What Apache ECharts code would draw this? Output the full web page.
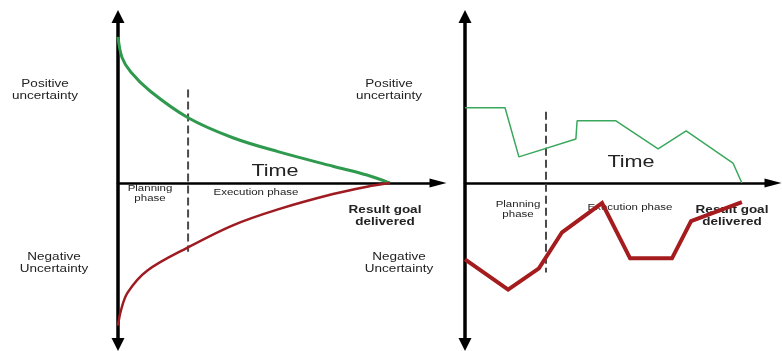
<!DOCTYPE html>
<html>
<head>
<meta charset="utf-8">
<script src="https://cdn.jsdelivr.net/npm/echarts@6/dist/echarts.min.js"></script>
<style>
  html, body { margin: 0; padding: 0; background: #fff; }
  #chart { width: 782px; height: 351px; }
</style>
</head>
<body>
<div id="chart"></div>
<script>
// Uncertainty over time: smooth convergence (left) vs. erratic path (right)
// Points are [time, uncertainty]; positive above the time axis, negative below.
const smoothPositive = [[0, 1.0], [0.125, 0.86], [0.4, 0.76], [1.0, 0.63], [2.19, 0.447], [3.59, 0.31],
  [5.0, 0.215], [6.72, 0.115], [7.78, 0.055], [8.5, 0]];
const smoothNegative = [[0, -0.976], [0.09, -0.873], [0.3, -0.75], [0.91, -0.6], [2.19, -0.44], [3.59, -0.289],
  [5.0, -0.18], [6.72, -0.075], [7.78, -0.025], [8.5, 0]];
const roughPositive = [[0, 0.515], [1.3, 0.515], [1.75, 0.179], [3.6, 0.302], [3.64, 0.426], [4.9, 0.426],
  [6.27, 0.234], [7.18, 0.357], [8.7, 0.137], [8.99, 0]];
const roughNegative = [[0, -0.522], [1.4, -0.729], [2.4, -0.584], [3.15, -0.337], [4.45, -0.137], [5.36, -0.515],
  [6.72, -0.515], [7.34, -0.261], [8.99, -0.131]];
// End of the planning phase (time) and the extent of its marker line
const planEndLeft = 2.19, planSpanLeft = [0.64, -0.47];
const planEndRight = 2.63, planSpanRight = [0.488, -0.612];

const FONT = 'Liberation Sans, Arial, Helvetica, sans-serif';
const STRETCH = 1.35;

function yAxisDef(grid) {
  return {
    type: 'value', gridIndex: grid, min: -1.105, max: 1.14,
    axisLine: { show: true, onZero: false, symbol: ['triangle', 'triangle'], symbolSize: [13, 13],
      lineStyle: { color: '#000', width: 3.5 } },
    axisTick: { show: false }, axisLabel: { show: false }, splitLine: { show: false }
  };
}
function xAxisDef(grid) {
  return {
    type: 'value', gridIndex: grid, min: 0, max: 10,
    axisLine: { show: true, onZero: true, symbol: ['none', 'triangle'], symbolSize: [9, 17],
      lineStyle: { color: '#000', width: 2.5 } },
    axisTick: { show: false }, axisLabel: { show: false }, splitLine: { show: false }
  };
}
function label(text, x, y, size, bold) {
  return {
    type: 'text', x: x, y: y, scaleX: STRETCH, z: 1,
    style: {
      text: text, fill: '#222',
      font: (bold ? 'bold ' : '') + size + 'px ' + FONT,
      textAlign: 'center', textVerticalAlign: 'middle',
      lineHeight: size * 1.2
    }
  };
}

const chart = echarts.init(document.getElementById('chart'), null, { renderer: 'canvas' });
chart.setOption({
  animation: false,
  backgroundColor: '#fff',
  grid: [
    { left: 118, top: 16.5, width: 320, height: 328 },
    { left: 465, top: 16.5, width: 308, height: 328 }
  ],
  xAxis: [xAxisDef(0), xAxisDef(1)],
  yAxis: [yAxisDef(0), yAxisDef(1)],
  graphic: [
    label('Positive\nuncertainty', 45, 90, 10, false),
    label('Negative\nUncertainty', 54, 263, 10, false),
    label('Time', 275, 172, 16, false),
    label('Planning\nphase', 150, 193.5, 8.5, false),
    label('Execution phase', 256, 193, 8.5, false),
    label('Result goal\ndelivered', 385, 216, 10, true),
    label('Positive\nuncertainty', 389, 90, 10, false),
    label('Negative\nUncertainty', 399, 263, 10, false),
    label('Time', 631, 163, 16, false),
    label('Planning\nphase', 518, 209.5, 8.5, false),
    label('Execution phase', 630, 208, 8.5, false),
    label('Result goal\ndelivered', 732, 216, 10, true)
  ],
  series: [
    {
      type: 'line', xAxisIndex: 0, yAxisIndex: 0, data: [[planEndLeft, planSpanLeft[0]], [planEndLeft, planSpanLeft[1]]],
      symbol: 'none', lineStyle: { color: '#4a4a4a', width: 2, type: [8, 4] }, z: 2
    },
    {
      type: 'line', xAxisIndex: 1, yAxisIndex: 1, data: [[planEndRight, planSpanRight[0]], [planEndRight, planSpanRight[1]]],
      symbol: 'none', lineStyle: { color: '#4a4a4a', width: 2, type: [8, 4] }, z: 2
    },
    {
      type: 'line', xAxisIndex: 0, yAxisIndex: 0, data: smoothPositive, symbol: 'none',
      smooth: 0.35, lineStyle: { color: '#2f9a4e', width: 3 }, z: 3
    },
    {
      type: 'line', xAxisIndex: 0, yAxisIndex: 0, data: smoothNegative, symbol: 'none',
      smooth: 0.35, lineStyle: { color: '#9e1b22', width: 2.5 }, z: 3
    },
    {
      type: 'line', xAxisIndex: 1, yAxisIndex: 1, data: roughPositive, symbol: 'none',
      lineStyle: { color: '#3aa85c', width: 1.5 }, z: 3
    },
    {
      type: 'line', xAxisIndex: 1, yAxisIndex: 1, data: roughNegative, symbol: 'none',
      lineStyle: { color: '#a51c1f', width: 4, join: 'miter' }, z: 3
    }
  ]
});
</script>
</body>
</html>
